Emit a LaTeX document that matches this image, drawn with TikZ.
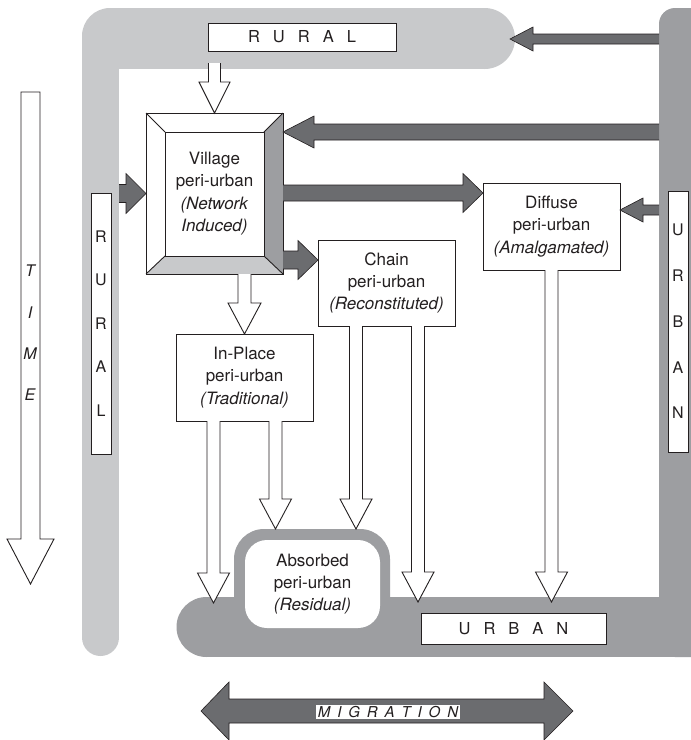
\documentclass[tikz,border=0pt]{standalone}
\usepackage{fontspec}
\setmainfont{TeX Gyre Heros}
\usetikzlibrary{calc}
\definecolor{lightband}{HTML}{C8C9CB}
\definecolor{darkband}{HTML}{9D9EA1}
\definecolor{arrowdark}{HTML}{6B6C6F}
\definecolor{ink}{HTML}{231F20}
% block arrow: [style]{start}{tip}{shaft half width}{head half width}{head length}
\newcommand\barrow[6][]{%
  \coordinate (bac) at ($(#3)!#6!(#2)$);
  \path[#1] ($(#2)!#4!90:(#3)$) -- ($(bac)!#4!90:(#3)$) -- ($(bac)!#5!90:(#3)$) -- (#3) -- ($(bac)!#5!-90:(#3)$) -- ($(bac)!#4!-90:(#3)$) -- ($(#2)!#4!-90:(#3)$);%
}
\newcommand\spaced[2]{{\spaceskip=#1 plus 0pt minus 0pt\relax #2}}
\begin{document}
\begin{tikzpicture}[x=1pt,y=-1pt,
  box/.style={draw=ink, line width=0.9pt, fill=white, inner sep=0pt, outer sep=0pt, align=center, text=ink,
    font=\fontsize{17pt}{22.3pt}\selectfont},
  lbl/.style={draw=ink, line width=0.9pt, fill=white, inner sep=0pt, outer sep=0pt, text=ink,
    font=\fontsize{16.5pt}{20pt}\selectfont},
  vlbl/.style={lbl, align=center, minimum width=20pt, minimum height=261pt},
  warrow/.style={fill=white, draw=ink, line width=0.9pt},
  darrow/.style={fill=arrowdark, draw=ink, line width=0.6pt},
  edge/.style={draw=ink, line width=0.9pt}]
\fill[white] (0,0) rectangle (691,740);
\useasboundingbox (0,0) rectangle (691,740);

% ---- rural band (light) ----
\fill[lightband] (110,36) circle[radius=28pt];
\fill[lightband] (110,8) rectangle (484.5,69);
\fill[lightband] (484.5,38.5) circle[radius=30.5pt];
\fill[lightband] (82,36) rectangle (119,637.5);
\fill[lightband] (100.5,637.5) circle[radius=18.5pt];

% ---- urban band (dark) ----
\fill[darkband, rounded corners=16pt] (659,8) rectangle (720,657);
\fill[darkband] (206.5,597) rectangle (720,657);
\fill[darkband] (206.5,627) circle[radius=30pt];
\fill[darkband, rounded corners=30pt] (234,529) rectangle (390,645);

% ---- nodes ----
\node[lbl, minimum width=188pt, minimum height=28pt] (ruraltop) at (302,37) {\spaced{13pt}{R U R A L}};
\node[lbl, minimum width=185pt, minimum height=31pt] (urbanbot) at (513.5,628.5) {\spaced{13pt}{U R B A N}};
\node[vlbl, font=\fontsize{16pt}{43.5pt}\selectfont] (ruralv) at (101,323.5) {R\\U\\R\\A\\L};
\node[vlbl, font=\fontsize{16pt}{45.75pt}\selectfont] (urbanv) at (678,321.5) {U\\R\\B\\A\\N};

\node[box, minimum width=137pt, minimum height=161pt] (village) at (214.5,193.5)
  {Village\\peri-urban\\\textit{(Network}\\\textit{Induced)}};
\node[box, minimum width=137pt, minimum height=86pt] (chain) at (386.5,283)
  {Chain\\peri-urban\\\textit{(Reconstituted)}};
\node[box, minimum width=137pt, minimum height=87pt] (diffuse) at (551.5,226.5)
  {Diffuse\\peri-urban\\\textit{(Amalgamated)}};
\node[box, minimum width=137pt, minimum height=87pt] (inplace) at (244.5,377.5)
  {In-Place\\peri-urban\\\textit{(Traditional)}};
\node[box, draw=none, rounded corners=22pt, minimum width=135pt, minimum height=88pt] (absorbed) at (312.5,584)
  {Absorbed\\peri-urban\\\textit{(Residual)}};

% village bevel
\coordinate (vi1) at ($(village.north west)+(19,19)$);
\coordinate (vi2) at ($(village.north east)+(-19,19)$);
\coordinate (vi3) at ($(village.south east)+(-19,-18)$);
\coordinate (vi4) at ($(village.south west)+(19,-18)$);
\fill[darkband] (village.north east) -- (village.south east) -- (vi3) -- (vi2) -- cycle;
\fill[lightband] (village.south west) -- (village.south east) -- (vi3) -- (vi4) -- cycle;
\draw[edge] (village.north west) rectangle (village.south east);
\draw[edge] (vi1) rectangle (vi3);
\draw[edge] (village.north west) -- (vi1) (village.north east) -- (vi2)
  (village.south east) -- (vi3) (village.south west) -- (vi4);

% ---- white (downward) arrows ----
\coordinate (r2v) at ($(ruraltop.south west)+(6.5,12)$);
\barrow[warrow]{r2v}{village.north}{6pt}{15.5pt}{31pt}
\coordinate (v2i) at (village.south -| inplace.north);
\barrow[warrow]{v2i}{inplace.north}{6.5pt}{16.5pt}{31pt}
\coordinate (i1a) at ($(inplace.south)+(-31,0)$);
\coordinate (i1b) at ($(inplace.south)+(-31,182)$);
\barrow[warrow]{i1a}{i1b}{6.5pt}{16pt}{30pt}
\coordinate (i2a) at ($(inplace.south)+(31,0)$);
\coordinate (i2b) at ($(absorbed.north)+(-37,-11)$);
\barrow[warrow]{i2a}{i2b}{6.5pt}{16pt}{30pt}
\coordinate (c1a) at ($(chain.south)+(-30.5,0)$);
\coordinate (c1b) at ($(absorbed.north)+(43.5,-11)$);
\barrow[warrow]{c1a}{c1b}{6.5pt}{16pt}{30pt}
\coordinate (c2a) at ($(chain.south)+(31.5,0)$);
\coordinate (c2b) at ($(c2a)+(0,276)$);
\barrow[warrow]{c2a}{c2b}{6.5pt}{16pt}{30pt}
\coordinate (d1b) at ($(diffuse.south)+(0,332)$);
\barrow[warrow]{diffuse.south}{d1b}{6.5pt}{16pt}{30pt}

% ---- dark arrows ----
\coordinate (dtip) at ($(diffuse.north west)+(0,10)$);
\coordinate (vd0) at (village.east |- dtip);
\barrow[darrow]{vd0}{dtip}{8pt}{19.5pt}{20pt}
\coordinate (ctip) at ($(chain.north west)+(0,20)$);
\coordinate (vc0) at (village.east |- ctip);
\barrow[darrow]{vc0}{ctip}{9pt}{19.5pt}{20pt}
\coordinate (vtip) at ($(village.north east)+(0,19)$);
\coordinate (uv0) at ($(urbanv.west |- vtip)+(-9,0)$);
\barrow[darrow]{uv0}{vtip}{8pt}{16pt}{31pt}
\coordinate (dtip2) at ($(diffuse.north east)+(0,27)$);
\coordinate (ud0) at ($(urbanv.west |- dtip2)+(-9,0)$);
\barrow[darrow]{ud0}{dtip2}{5pt}{12pt}{23pt}
\coordinate (rtip) at (510,39);
\coordinate (ur0) at (659,39);
\barrow[darrow]{ur0}{rtip}{5pt}{12pt}{23pt}
\coordinate (rv0) at ($(ruralv.east |- village.west)+(8,0)$);
\barrow[darrow]{rv0}{village.west}{9pt}{20pt}{20pt}

% ---- TIME arrow ----
\coordinate (ttop) at (30.5,92);
\coordinate (ttip) at (30.5,584);
\path[warrow] ($(ttop)+(-9.5,0)$) -- ($(ttip)+(-9.5,-45)$) -- ($(ttip)+(-23.5,-45)$) -- (ttip)
  -- ($(ttip)+(23.5,-45)$) -- ($(ttip)+(9.5,-45)$) -- ($(ttop)+(9.5,0)$) -- cycle;
\node[font=\fontsize{16pt}{41.3pt}\selectfont\itshape, align=center, text=ink, inner sep=0pt] (time) at (30,333) {T\\I\\M\\E};

% ---- MIGRATION arrow ----
\coordinate (migl) at (201,711);
\coordinate (migr) at (573,711);
\path[darrow] (migl) -- ++(28,-29) -- ++(0,17) -- ++(315,0) -- ++(0,-17) -- (migr)
  -- ++(-29,29) -- ++(0,-17) -- ++(-315,0) -- ++(0,17) -- cycle;
\node[fill=white, inner xsep=0pt, inner ysep=1.5pt, minimum width=144pt, text=ink,
  font=\fontsize{15pt}{18pt}\selectfont\itshape] (migration) at (388,712) {\spaced{6.9pt}{M I G R A T I O N}};
\end{tikzpicture}
\end{document}
